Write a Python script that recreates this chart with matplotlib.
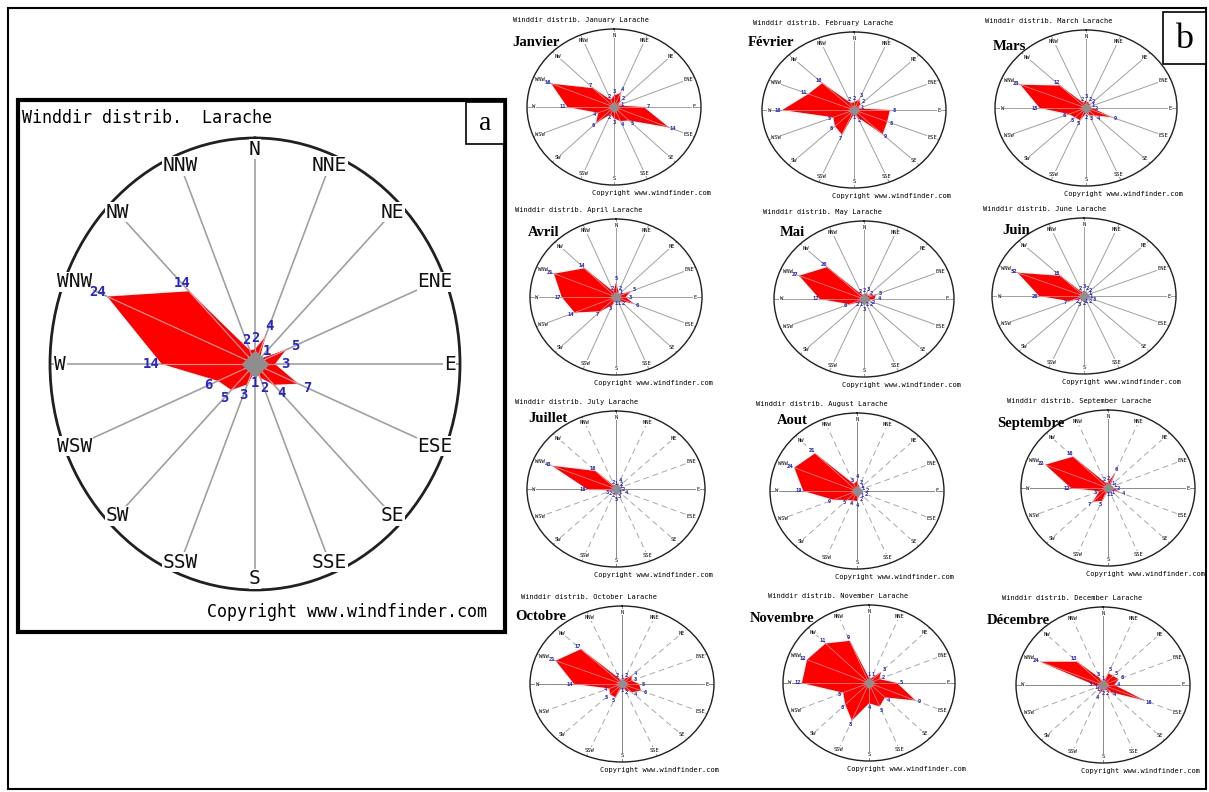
import numpy as np
import matplotlib.pyplot as plt
from matplotlib.patches import Rectangle

# wind direction frequency (%) at Larache, 16 sectors clockwise from N
directions = ["N", "NNE", "NE", "ENE", "E", "ESE", "SE", "SSE",
              "S", "SSW", "SW", "WSW", "W", "WNW", "NW", "NNW"]

annual = [2, 4, 1, 5, 3, 7, 4, 2, 1, 3, 5, 6, 14, 24, 14, 2]

jan = [3, 4, 2, 1, 7, 14, 5, 4, 3, 2, 6, 4, 11, 16, 7, 2]
feb = [2, 3, 2, 1, 8, 8, 9, 2, 1, 7, 6, 5, 16, 11, 10, 2]
mar = [3, 2, 2, 1, 2, 9, 4, 3, 2, 5, 5, 6, 15, 23, 12, 2]
apr = [5, 2, 1, 5, 3, 6, 2, 1, 1, 3, 7, 14, 17, 21, 14, 2]
may = [2, 3, 2, 5, 4, 2, 2, 1, 3, 1, 2, 6, 17, 27, 20, 2]
jun = [3, 2, 2, 1, 1, 3, 2, 1, 2, 3, 2, 7, 20, 32, 15, 2]
jul = [1, 4, 2, 1, 2, 4, 1, 3, 5, 2, 2, 3, 18, 43, 18, 2]
aug = [4, 2, 1, 1, 2, 2, 1, 2, 4, 4, 5, 9, 19, 24, 21, 3]
sep = [2, 6, 1, 1, 2, 4, 1, 1, 1, 5, 7, 3, 12, 22, 16, 2]
oct_ = [1, 2, 4, 3, 5, 6, 4, 2, 1, 5, 5, 4, 14, 21, 17, 2]
nov = [1, 1, 3, 2, 5, 9, 4, 5, 4, 8, 6, 5, 12, 12, 11, 9]
dec = [1, 5, 5, 6, 4, 16, 4, 2, 2, 4, 1, 1, 3, 24, 13, 3]

months_data = [jan, feb, mar, apr, may, jun, jul, aug, sep, oct_, nov, dec]
months_en = ["January", "February", "March", "April", "May", "June",
             "July", "August", "September", "October", "November", "December"]
months_fr = ["Janvier", "Février", "Mars", "Avril", "Mai", "Juin",
             "Juillet", "Aout", "Septembre", "Octobre", "Novembre", "Décembre"]

W, H = 1209, 792
MONO = "DejaVu Sans Mono"
SERIF = "Liberation Serif"
BLUE = "#2525d0"

fig = plt.figure(figsize=(W / 100, H / 100), dpi=100)
bg = fig.add_axes([0, 0, 1, 1])
bg.set_xlim(0, W)
bg.set_ylim(H, 0)
bg.axis("off")


def rose(cx, cy, rx, ry, vals, dir_fs, val_fs, grid_lw, edge_lw, ms,
         dir_r=0.94, dashed=False):
    ax = fig.add_axes([(cx - rx) / W, 1 - (cy + ry) / H, 2 * rx / W, 2 * ry / H],
                      projection="polar")
    ax.set_aspect("auto")
    ax.set_theta_zero_location("N")
    ax.set_theta_direction(-1)
    theta = np.radians(np.arange(len(vals)) * 22.5)
    rmax = max(vals) / 0.78
    ax.set_ylim(0, rmax)
    ax.set_yticks([])
    ax.set_xticks(theta)
    ax.set_xticklabels([])
    ax.yaxis.grid(False)
    if dashed:
        ax.xaxis.grid(True, color="#a8a8a8", lw=grid_lw, ls=(0, (6, 4)))
        for t in np.radians([0, 90, 180, 270]):
            ax.plot([t, t], [0, rmax], color="#8a8a8a", lw=grid_lw, zorder=1)
    else:
        ax.xaxis.grid(True, color="#a0a0a0", lw=grid_lw)
    ax.set_axisbelow(True)
    ax.spines["polar"].set_linewidth(edge_lw)
    ax.spines["polar"].set_color("#202020")

    tt = np.append(theta, theta[0])
    rr = np.append(vals, vals[0])
    ax.fill(tt, rr, color="#ff0000", lw=0, zorder=2)
    for t, v in zip(theta, vals):
        ax.plot([t, t], [0, v], color="#ff9c9c", lw=grid_lw * 0.7, zorder=3)
    ax.plot([0], [0], marker="D", ms=ms, color="#8e8e8e", mec="#8e8e8e", zorder=4)

    for t, d in zip(theta, directions):
        ax.text(t, rmax * dir_r, d, ha="center", va="center", fontsize=dir_fs,
                family=MONO, color="#111111", zorder=5,
                bbox=dict(fc="white", ec="none", pad=0.3))
    for t, v in zip(theta, vals):
        ax.text(t, v + rmax * 0.05, str(v), ha="center", va="center",
                fontsize=val_fs, family=MONO, color=BLUE, fontweight="bold",
                zorder=6)
    return ax


# outer frame
bg.add_patch(Rectangle((8, 8), 1198, 781, fill=False, ec="black", lw=1.5))

# panel a : yearly distribution
bg.add_patch(Rectangle((18, 100), 487, 532, fill=False, ec="black", lw=3))
bg.add_patch(Rectangle((466, 102), 38, 42, fc="white", ec="black", lw=1.2))
bg.text(485, 124, "a", ha="center", va="center", fontsize=20, family=SERIF)
bg.text(22, 118, "Winddir distrib.  Larache", ha="left", va="center",
        fontsize=12, family=MONO)
bg.text(487, 612, "Copyright www.windfinder.com", ha="right", va="center",
        fontsize=12, family=MONO)
rose(255, 364, 205, 226, annual, dir_fs=14, val_fs=10, grid_lw=1.2,
     edge_lw=2, ms=13, dir_r=0.95)

# panel b : monthly distributions
bg.add_patch(Rectangle((1163, 12), 43, 52, fc="white", ec="black", lw=1.2))
bg.text(1184, 39, "b", ha="center", va="center", fontsize=26, family=SERIF)

centers = [(614, 107), (854, 110), (1086, 108),
           (616, 297), (864, 299), (1084, 296),
           (616, 489), (857, 491), (1108, 488),
           (622, 684), (869, 683), (1103, 685)]
radii_x = [87, 92, 91, 86, 90, 92, 89, 87, 87, 92, 86, 87]
name_x = [512, 748, 993, 528, 780, 1002, 528, 777, 997, 515, 750, 987]
name_y = [42, 42, 47, 232, 233, 230, 418, 421, 423, 617, 619, 621]

for i, vals in enumerate(months_data):
    cx, cy = centers[i]
    bg.text(cx - 101, cy - 87, "Winddir distrib. %s Larache" % months_en[i],
            ha="left", va="center", fontsize=5, family=MONO)
    bg.text(cx - 22, cy + 86, "Copyright www.windfinder.com", ha="left",
            va="center", fontsize=5, family=MONO)
    rose(cx, cy, radii_x[i], 78, vals, dir_fs=4, val_fs=4, grid_lw=0.7,
         edge_lw=1.0, ms=5, dir_r=0.92, dashed=i >= 6)
    # month name sits on top of the rose
    fig.text(name_x[i] / W, 1 - name_y[i] / H, months_fr[i], ha="left",
             va="center", fontsize=10.5, family=SERIF, fontweight="bold",
             zorder=10)

fig.savefig("out.png", dpi=100)
